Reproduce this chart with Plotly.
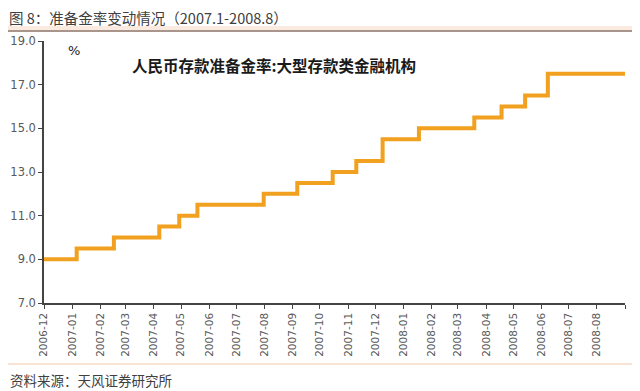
import plotly.graph_objects as go

# Step dates (rate changes) and reserve requirement ratio (%)
change_dates = ["2006-12-01", "2007-01-06", "2007-02-16", "2007-04-07", "2007-04-29",
                "2007-05-19", "2007-07-31", "2007-09-06", "2007-10-15", "2007-11-10",
                "2007-12-09", "2008-01-18", "2008-03-19", "2008-04-18", "2008-05-14",
                "2008-06-08"]
rates = [9.0, 9.5, 10.0, 10.5, 11.0, 11.5, 12.0, 12.5, 13.0, 13.5,
         14.5, 15.0, 15.5, 16.0, 16.5, 17.5]
end_date = "2008-09-01"

tick_months = ["2006-12", "2007-01", "2007-02", "2007-03", "2007-04", "2007-05",
               "2007-06", "2007-07", "2007-08", "2007-09", "2007-10", "2007-11",
               "2007-12", "2008-01", "2008-02", "2008-03", "2008-04", "2008-05",
               "2008-06", "2008-07", "2008-08", "2008-09"]
tick_labels = tick_months[:-1] + [""]
y_ticks = [7.0, 9.0, 11.0, 13.0, 15.0, 17.0, 19.0]

title_text = "图 8：准备金率变动情况（2007.1-2008.8）"
series_name = "人民币存款准备金率:大型存款类金融机构"
source_text = "资料来源：天风证券研究所"

xs = change_dates + [end_date]
ys = rates + [rates[-1]]

# page has an 8px body margin; figure occupies the window from (8, 8)
OFF = 8
W, H = 640 - OFF, 391 - OFF
L, R, T, B = 44 - OFF, 15, 41 - OFF, 88
PW, PH = W - L - R, H - T - B


def px(x):
    # x in window pixels -> paper fraction
    return (x - OFF - L) / PW


def py(y):
    # y in window pixels -> paper fraction
    return (H - B - (y - OFF)) / PH


fig = go.Figure()
fig.add_trace(go.Scatter(
    x=xs, y=ys, mode="lines", line=dict(color="#F2A01F", width=4, shape="hv"),
    name=series_name, showlegend=False, hoverinfo="skip"))

fig.update_layout(
    width=W, height=H,
    margin=dict(l=L, r=R, t=T, b=B),
    paper_bgcolor="white", plot_bgcolor="white",
    font=dict(family="DejaVu Sans", color="#555555"),
    xaxis=dict(
        type="date", range=["2006-12-01", end_date],
        tickvals=[m + "-01" for m in tick_months], ticktext=tick_labels,
        tickangle=-90, ticks="outside", ticklen=4, tickcolor="#444444",
        showline=True, linecolor="#444444", linewidth=1.5,
        showgrid=False, zeroline=False, automargin=False,
        tickfont=dict(size=10.5, color="#595959", family="DejaVu Sans"),
    ),
    yaxis=dict(
        range=[7, 19], tickvals=y_ticks,
        ticktext=[f"{v:.1f}" for v in y_ticks],
        ticks="outside", ticklen=4, tickcolor="#444444",
        showline=True, linecolor="#444444", linewidth=1.5,
        showgrid=False, zeroline=False, automargin=False,
        tickfont=dict(size=11.5, color="#595959", family="DejaVu Sans"),
    ),
)


def band(y_top, height, color):
    # full-width coloured strip above/below the chart body
    fig.add_shape(type="rect", xref="paper", yref="paper",
                  x0=px(OFF), x1=px(640), y0=py(y_top + height), y1=py(y_top),
                  fillcolor=color, line=dict(width=0), layer="below")


band(26, 4, "#FBEADF")
band(30, 2, "#A8968C")
band(363, 2, "#F8E3D5")

fig.add_annotation(text=title_text, xref="paper", yref="paper",
                   x=px(OFF), y=py(17), xanchor="left", yanchor="middle",
                   showarrow=False, borderpad=0,
                   font=dict(size=14.5, color="#404040", family="Noto Sans CJK SC"))
fig.add_annotation(text="%", xref="paper", yref="paper",
                   x=px(74), y=py(50), xanchor="center", yanchor="middle",
                   showarrow=False,
                   font=dict(size=13, color="#222222", family="DejaVu Sans"))
fig.add_annotation(text="<b>" + series_name + "</b>", xref="paper", yref="paper",
                   x=px(130), y=py(65), xanchor="left", yanchor="middle",
                   showarrow=False,
                   font=dict(size=15.5, color="#1a1a1a", family="Noto Sans CJK SC"))
fig.add_annotation(text=source_text, xref="paper", yref="paper",
                   x=px(OFF), y=py(380), xanchor="left", yanchor="middle",
                   showarrow=False,
                   font=dict(size=13.5, color="#404040", family="Noto Sans CJK SC"))

fig.write_html("out.html", config={"displayModeBar": False})
